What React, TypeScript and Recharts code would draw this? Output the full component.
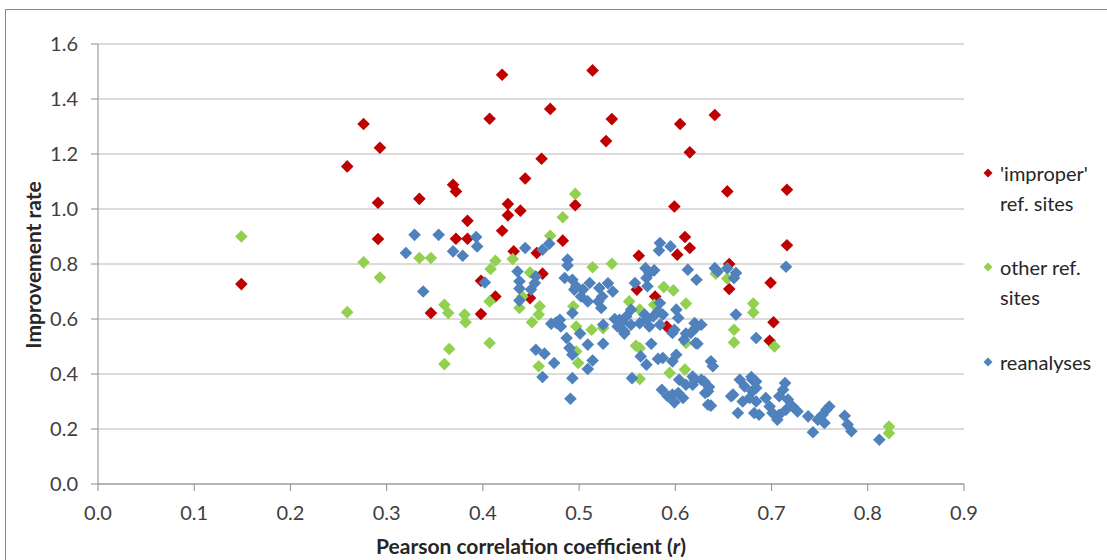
import React from "react";
import {
  ScatterChart,
  Scatter,
  XAxis,
  YAxis,
  CartesianGrid,
} from "recharts";

// [Pearson r, improvement rate]
const improperSites: [number, number][] = [
  [0.149, 0.727], [0.259, 1.155], [0.276, 1.309], [0.293, 1.223], [0.291, 1.023],
  [0.291, 0.891], [0.334, 1.037], [0.346, 0.622], [0.369, 1.088], [0.372, 1.064],
  [0.372, 0.892], [0.384, 0.892], [0.384, 0.957], [0.398, 0.739], [0.398, 0.618],
  [0.407, 1.328], [0.413, 0.682], [0.42, 1.488], [0.42, 0.921], [0.426, 1.018],
  [0.426, 0.977], [0.439, 0.994], [0.432, 0.846], [0.444, 1.111], [0.449, 0.676],
  [0.456, 0.84], [0.462, 0.765], [0.461, 1.183], [0.47, 1.364], [0.483, 0.885],
  [0.496, 1.014], [0.514, 1.504], [0.528, 1.247], [0.534, 1.327], [0.56, 0.707],
  [0.562, 0.83], [0.579, 0.682], [0.591, 0.573], [0.599, 1.009], [0.602, 0.834],
  [0.605, 1.309], [0.61, 0.898], [0.615, 0.858], [0.615, 1.206], [0.641, 1.342],
  [0.654, 1.064], [0.656, 0.8], [0.656, 0.709], [0.699, 0.732], [0.702, 0.588],
  [0.698, 0.521], [0.716, 1.07], [0.716, 0.868],
];

const otherSites: [number, number][] = [
  [0.149, 0.9], [0.259, 0.625], [0.276, 0.806], [0.293, 0.751], [0.334, 0.822],
  [0.346, 0.822], [0.36, 0.652], [0.364, 0.622], [0.365, 0.491], [0.36, 0.436],
  [0.381, 0.616], [0.382, 0.588], [0.407, 0.664], [0.407, 0.513], [0.408, 0.782],
  [0.413, 0.812], [0.431, 0.818], [0.438, 0.64], [0.441, 0.682], [0.449, 0.769],
  [0.451, 0.588], [0.458, 0.616], [0.459, 0.646], [0.458, 0.428], [0.47, 0.903],
  [0.483, 0.97], [0.496, 1.055], [0.494, 0.646], [0.497, 0.573], [0.497, 0.482],
  [0.499, 0.44], [0.514, 0.788], [0.513, 0.561], [0.525, 0.567], [0.534, 0.801],
  [0.552, 0.664], [0.559, 0.503], [0.563, 0.494], [0.563, 0.382], [0.563, 0.634],
  [0.578, 0.652], [0.588, 0.716], [0.598, 0.704], [0.594, 0.404], [0.594, 0.319],
  [0.61, 0.416], [0.611, 0.656], [0.611, 0.513], [0.642, 0.765], [0.654, 0.747],
  [0.661, 0.561], [0.661, 0.515], [0.681, 0.656], [0.681, 0.624], [0.703, 0.5],
  [0.822, 0.209], [0.822, 0.185],
];

const reanalyses: [number, number][] = [
  [0.32, 0.84], [0.329, 0.906], [0.354, 0.906], [0.369, 0.846], [0.379, 0.83],
  [0.393, 0.898], [0.394, 0.864], [0.338, 0.7], [0.402, 0.733], [0.436, 0.773],
  [0.438, 0.737], [0.438, 0.711], [0.438, 0.667], [0.444, 0.858], [0.45, 0.707],
  [0.455, 0.755], [0.454, 0.731], [0.462, 0.852], [0.469, 0.874],
  [0.488, 0.816], [0.488, 0.795], [0.485, 0.749], [0.493, 0.743], [0.497, 0.719],
  [0.495, 0.707], [0.504, 0.707], [0.502, 0.682], [0.509, 0.664], [0.511, 0.731],
  [0.493, 0.622], [0.471, 0.583], [0.48, 0.597], [0.481, 0.573], [0.476, 0.587],
  [0.521, 0.713], [0.524, 0.682], [0.52, 0.664], [0.535, 0.7], [0.523, 0.64],
  [0.53, 0.73], [0.537, 0.6], [0.545, 0.59],
  [0.455, 0.488], [0.464, 0.474], [0.474, 0.44], [0.462, 0.389], [0.487, 0.531],
  [0.49, 0.495], [0.493, 0.47], [0.493, 0.385], [0.491, 0.31],
  [0.501, 0.547], [0.509, 0.507], [0.514, 0.449], [0.509, 0.418], [0.525, 0.51],
  [0.525, 0.579], [0.547, 0.547], [0.564, 0.464], [0.57, 0.434], [0.575, 0.51],
  [0.555, 0.385], [0.582, 0.455], [0.587, 0.458], [0.597, 0.549], [0.597, 0.446],
  [0.601, 0.47], [0.611, 0.547], [0.609, 0.525], [0.623, 0.51], [0.604, 0.379],
  [0.618, 0.391], [0.627, 0.379], [0.634, 0.337], [0.618, 0.361], [0.586, 0.343],
  [0.597, 0.325], [0.603, 0.331], [0.599, 0.297], [0.608, 0.313], [0.634, 0.288],
  [0.554, 0.634], [0.549, 0.609], [0.542, 0.597], [0.54, 0.573], [0.547, 0.555],
  [0.554, 0.579], [0.563, 0.585], [0.573, 0.573], [0.57, 0.597], [0.584, 0.658],
  [0.582, 0.628], [0.587, 0.616], [0.577, 0.609], [0.568, 0.616], [0.601, 0.634],
  [0.603, 0.604], [0.584, 0.579], [0.599, 0.561], [0.62, 0.585], [0.627, 0.579],
  [0.621, 0.567], [0.616, 0.549], [0.621, 0.513],
  [0.584, 0.876], [0.583, 0.849], [0.595, 0.864], [0.569, 0.785], [0.573, 0.767],
  [0.578, 0.777], [0.57, 0.749], [0.558, 0.731], [0.571, 0.719],
  [0.613, 0.779], [0.622, 0.743], [0.641, 0.785], [0.644, 0.773], [0.654, 0.785],
  [0.663, 0.767], [0.661, 0.749], [0.715, 0.79],
  [0.663, 0.616], [0.684, 0.531], [0.637, 0.446], [0.639, 0.428], [0.667, 0.379],
  [0.672, 0.355], [0.68, 0.379], [0.684, 0.349], [0.66, 0.325], [0.63, 0.373],
  [0.62, 0.379], [0.611, 0.361], [0.592, 0.319],
  [0.635, 0.353], [0.631, 0.331], [0.637, 0.285], [0.658, 0.319], [0.665, 0.258],
  [0.67, 0.3], [0.679, 0.389], [0.684, 0.373], [0.68, 0.337], [0.677, 0.313],
  [0.684, 0.3], [0.682, 0.258], [0.687, 0.252],
  [0.694, 0.313], [0.698, 0.282], [0.701, 0.258], [0.706, 0.234], [0.708, 0.252],
  [0.708, 0.319], [0.712, 0.343], [0.714, 0.367], [0.717, 0.307], [0.722, 0.282],
  [0.727, 0.264], [0.715, 0.27],
  [0.738, 0.246], [0.743, 0.188], [0.748, 0.234], [0.753, 0.252], [0.757, 0.27],
  [0.76, 0.282], [0.755, 0.222], [0.776, 0.248], [0.779, 0.216], [0.783, 0.192],
  [0.812, 0.161],
];

const xTicks = [0, 0.1, 0.2, 0.3, 0.4, 0.5, 0.6, 0.7, 0.8, 0.9];
const yTicks = [0, 0.2, 0.4, 0.6, 0.8, 1.0, 1.2, 1.4, 1.6];

const series = [
  { name: ["'improper'", "ref. sites"], color: "#C00000", points: improperSites },
  { name: ["other ref.", "sites"], color: "#92D050", points: otherSites },
  { name: ["reanalyses"], color: "#4F81BD", points: reanalyses },
];

const FONT = "Lato, 'Open Sans', sans-serif";
const AXIS_GREY = "#8c8c8c";

const toRows = (pts: [number, number][]) => pts.map(([r, rate]) => ({ r, rate }));

// square diamond marker, like the spreadsheet default
const Diamond = (props: any) => {
  const { cx, cy, fill } = props;
  if (cx == null || cy == null) return null;
  const h = 6.3;
  return (
    <path
      d={`M${cx},${cy - h}L${cx + h},${cy}L${cx},${cy + h}L${cx - h},${cy}Z`}
      fill={fill}
    />
  );
};

const legendTops = [158, 252, 347];

const App = () => {
  return (
    <div
      style={{
        position: "absolute",
        left: 0,
        top: 0,
        width: 1107,
        height: 560,
        background: "#fff",
        overflow: "hidden",
        fontFamily: FONT,
      }}
    >
      <div
        style={{
          position: "absolute",
          left: 5,
          top: 9,
          width: 1120,
          height: 600,
          border: "1px solid #8a8a8a",
        }}
      />
      <ScatterChart
        width={1107}
        height={560}
        margin={{ top: 44, right: 143, bottom: 36, left: 0 }}
        style={{ position: "absolute", left: 0, top: 0 }}
      >
        <CartesianGrid vertical={false} stroke="#b8b8b8" />
        <XAxis
          type="number"
          dataKey="r"
          domain={[0, 0.9]}
          ticks={xTicks}
          interval={0}
          height={40}
          tickFormatter={(v: number) => v.toFixed(1)}
          tick={{ fill: "#404040", fontSize: 20, fontFamily: FONT }}
          tickSize={7}
          tickMargin={15}
          stroke={AXIS_GREY}
        />
        <YAxis
          type="number"
          dataKey="rate"
          domain={[0, 1.6]}
          ticks={yTicks}
          interval={0}
          width={98}
          tickFormatter={(v: number) => v.toFixed(1)}
          tick={{ fill: "#404040", fontSize: 20, fontFamily: FONT }}
          tickSize={7}
          tickMargin={13}
          stroke={AXIS_GREY}
        />
        {series.map((s) => (
          <Scatter
            key={s.name.join(" ")}
            name={s.name.join(" ")}
            data={toRows(s.points)}
            fill={s.color}
            shape={Diamond}
            isAnimationActive={false}
          />
        ))}
      </ScatterChart>

      {/* axis titles */}
      <div
        style={{
          position: "absolute",
          left: 32,
          top: 265,
          transform: "translate(-50%, -50%) rotate(-90deg)",
          whiteSpace: "nowrap",
          fontWeight: 700,
          fontSize: 21,
          color: "#262626",
        }}
      >
        Improvement rate
      </div>
      <div
        style={{
          position: "absolute",
          left: 531,
          top: 545,
          transform: "translate(-50%, -50%)",
          whiteSpace: "nowrap",
          fontWeight: 700,
          fontSize: 21,
          color: "#262626",
        }}
      >
        Pearson correlation coefficient (<i>r</i>)
      </div>

      {/* legend */}
      {series.map((s, i) => (
        <div
          key={s.color}
          style={{
            position: "absolute",
            left: 982,
            top: legendTops[i],
            fontSize: 20,
            lineHeight: "30px",
            color: "#262626",
          }}
        >
          <svg
            width={12}
            height={12}
            style={{ position: "absolute", left: 0, top: 9 }}
          >
            <path d="M6,1.5L10.5,6L6,10.5L1.5,6Z" fill={s.color} />
          </svg>
          <div style={{ marginLeft: 18 }}>
            {s.name.map((line) => (
              <div key={line}>{line}</div>
            ))}
          </div>
        </div>
      ))}
    </div>
  );
};

export default App;
